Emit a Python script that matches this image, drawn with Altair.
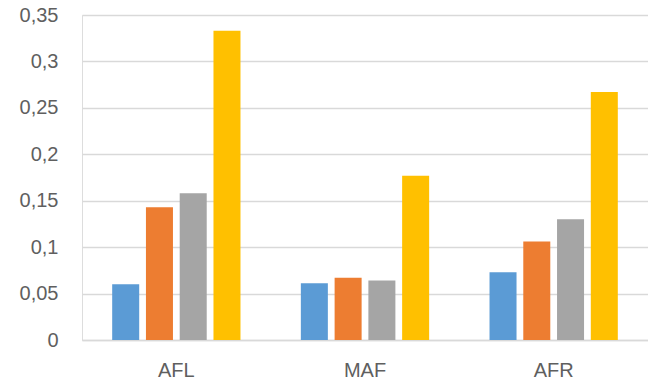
import altair as alt
import pandas as pd

categories = ["AFL", "MAF", "AFR"]
series = ["S1", "S2", "S3", "S4"]
s1 = [0.060, 0.061, 0.073]
s2 = [0.143, 0.067, 0.106]
s3 = [0.158, 0.064, 0.130]
s4 = [0.333, 0.177, 0.267]
colors = ["#5B9BD5", "#ED7D31", "#A5A5A5", "#FFC000"]
y_ticks = [0, 0.05, 0.1, 0.15, 0.2, 0.25, 0.3, 0.35]

rows = []
for name, vals in zip(series, [s1, s2, s3, s4]):
    for c, v in zip(categories, vals):
        rows.append({"cat": c, "series": name, "value": v})
df = pd.DataFrame(rows)

font = "Liberation Sans"

chart = alt.Chart(df).mark_bar().encode(
    x=alt.X("cat:N", sort=categories, title=None,
            scale=alt.Scale(paddingInner=0.32, paddingOuter=0.16),
            axis=alt.Axis(labelAngle=0, ticks=False, domain=True, domainColor="#d9d9d9",
                          domainWidth=1.5, labelFontSize=20, labelColor="#5f5f5f",
                          labelFont=font, labelPadding=20)),
    xOffset=alt.XOffset("series:N", sort=series,
                        scale=alt.Scale(paddingInner=0.2)),
    y=alt.Y("value:Q", title=None,
            scale=alt.Scale(domain=[0, 0.35], nice=False),
            axis=alt.Axis(values=y_ticks, domain=False, ticks=False,
                          labelExpr="replace(format(datum.value, '.2~f'), '.', ',')",
                          labelFontSize=20, labelColor="#5f5f5f", labelFont=font,
                          labelPadding=24, gridColor="#d9d9d9", gridWidth=1.5)),
    color=alt.Color("series:N", sort=series,
                    scale=alt.Scale(domain=series, range=colors), legend=None),
).properties(
    width=566, height=325,
    autosize=alt.AutoSizeParams(type="none"),
    padding={"left": 82, "top": 15, "right": 0, "bottom": 48},
).configure_view(stroke=None).configure(background="white")

chart.save("out.html", embed_options={"renderer": "svg", "actions": False})
